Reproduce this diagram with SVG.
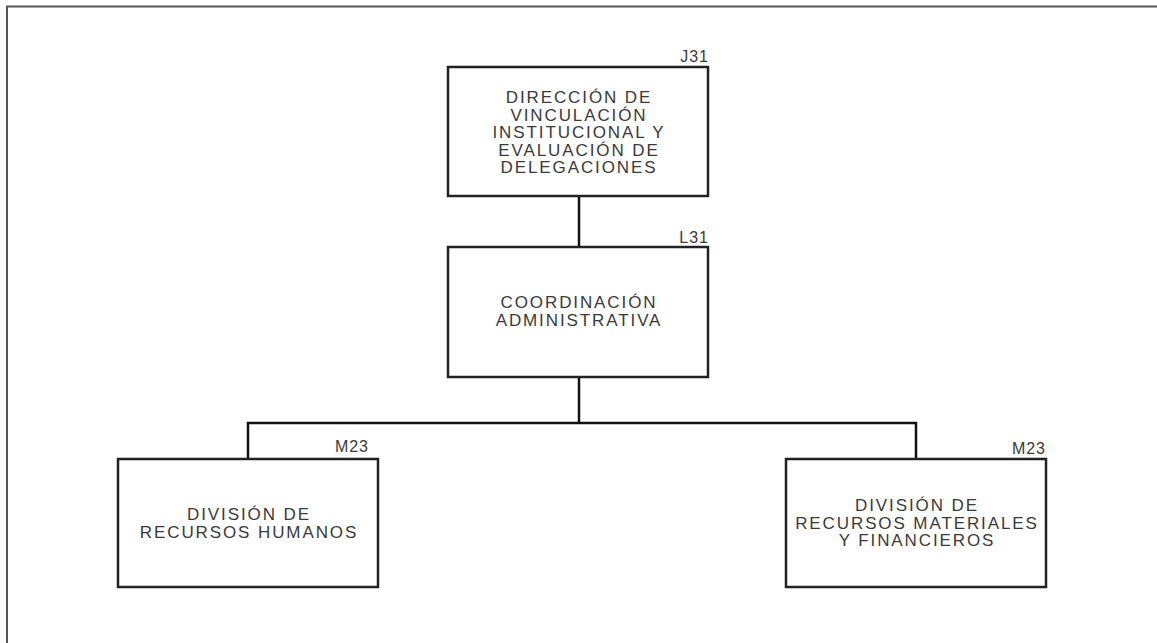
<svg xmlns="http://www.w3.org/2000/svg" width="1157" height="643" viewBox="0 0 1157 643">
<style>
.box{fill:#fff;stroke:#222;stroke-width:2.5}
.frame{fill:none;stroke:#555;stroke-width:2}
.conn{fill:none;stroke:#111;stroke-width:2.5}
text{font-family:"Liberation Sans",Arial,sans-serif;font-size:17px;fill:#3a3a3a;letter-spacing:1.9px}
.t{text-anchor:middle}
.code{text-anchor:end;letter-spacing:1px;font-size:16px}
</style>
<rect width="1157" height="643" fill="#fff"/>
<path class="frame" d="M7,643 V6.5 H1157"/>
<g id="connectors">
<path class="conn" d="M579,196 V247"/>
<path class="conn" d="M579,377 V423"/>
<path class="conn" d="M248,459 V423 H916 V459"/>
</g>
<g id="node-j31">
<rect class="box" x="448" y="67" width="260" height="129"/>
<text class="code" x="709" y="62">J31</text>
<text class="t" x="579" y="103">DIRECCIÓN DE</text>
<text class="t" x="579" y="120.5">VINCULACIÓN</text>
<text class="t" x="579" y="138">INSTITUCIONAL Y</text>
<text class="t" x="579" y="155.5">EVALUACIÓN DE</text>
<text class="t" x="579" y="173">DELEGACIONES</text>
</g>
<g id="node-l31">
<rect class="box" x="448" y="247" width="260" height="130"/>
<text class="code" x="709" y="243">L31</text>
<text class="t" x="579" y="308">COORDINACIÓN</text>
<text class="t" x="579" y="326">ADMINISTRATIVA</text>
</g>
<g id="node-m23-rh">
<rect class="box" x="118" y="459" width="260" height="128"/>
<text class="code" x="369" y="452">M23</text>
<text class="t" x="249" y="520">DIVISIÓN DE</text>
<text class="t" x="249" y="538">RECURSOS HUMANOS</text>
</g>
<g id="node-m23-rmf">
<rect class="box" x="786" y="459" width="260" height="128"/>
<text class="code" x="1046" y="454">M23</text>
<text class="t" x="917" y="511">DIVISIÓN DE</text>
<text class="t" x="917" y="528.5">RECURSOS MATERIALES</text>
<text class="t" x="917" y="546">Y FINANCIEROS</text>
</g>
</svg>
